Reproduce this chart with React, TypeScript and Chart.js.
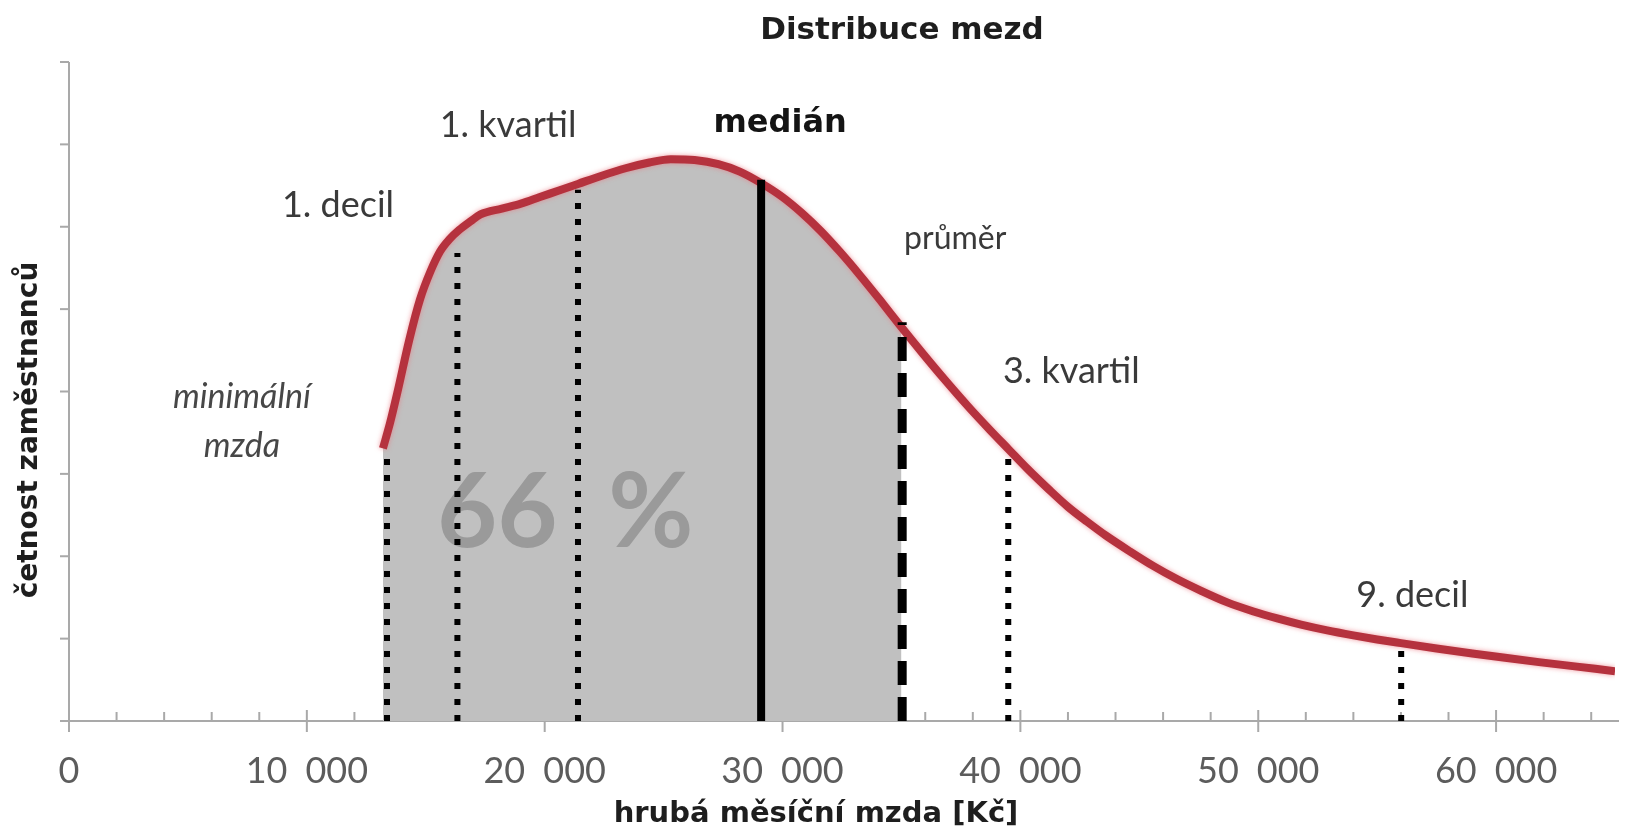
import React, { useEffect, useRef } from 'react';
import { Chart, registerables } from 'chart.js';

Chart.register(...registerables);

// ---- data ----
// gross monthly wage [Kč]
const WAGES = [
  13200, 13500, 13800, 14300, 14760, 15200, 15600, 16000, 16400, 16900, 17300, 18200,
  19000, 19800, 20600, 21400, 22400, 23400, 24400, 25300, 26300, 27300, 28200, 29100,
  30000, 30800, 31600, 32400, 33200, 34100, 35000, 35900, 36800, 37800, 38700, 39500,
  40300, 41200, 42000, 42800, 43600, 44600, 45600, 46600, 47600, 48700, 49800, 50800,
  51800, 52900, 54000, 55000, 56000, 57500, 59000, 60300, 61800, 63400, 65000,
];
// relative number of employees (axis units, no labels on the axis)
const FREQUENCY = [
  3.31, 3.62, 3.98, 4.62, 5.12, 5.46, 5.7, 5.85, 5.96, 6.07, 6.15, 6.22,
  6.28, 6.36, 6.44, 6.52, 6.62, 6.71, 6.78, 6.82, 6.81, 6.76, 6.67, 6.53,
  6.36, 6.17, 5.95, 5.7, 5.43, 5.11, 4.78, 4.46, 4.15, 3.82, 3.54, 3.3,
  3.06, 2.81, 2.6, 2.42, 2.25, 2.06, 1.88, 1.72, 1.58, 1.44, 1.33, 1.245,
  1.17, 1.1, 1.04, 0.99, 0.945, 0.88, 0.82, 0.77, 0.715, 0.66, 0.605,
];

// statistics marked by vertical lines
const MARKER_NAMES = ['minimální mzda', '1. decil', '1. kvartil', 'medián', 'průměr', '3. kvartil', '9. decil'];
const MARKER_WAGES = [13370, 16330, 21400, 29100, 35030, 39490, 56010];
const MARKER_TOPS = [3.29, 5.68, 6.45, 6.57, 4.84, 3.3, 0.95];
const MEDIAN_NAME = 'medián';
const MEAN_NAME = 'průměr';
const MEAN_WAGE = 35000;
const SHARE_BELOW_MEAN = 66;

// axis ticks
const X_TICKS = [0, 10000, 20000, 30000, 40000, 50000, 60000];
const X_TICK_LABELS = ['0', '10\u2002000', '20\u2002000', '30\u2002000', '40\u2002000', '50\u2002000', '60\u2002000'];
const X_MIN = 0;
const X_MAX = 65000;
const X_MINOR_STEP = 2000;
const Y_MIN = 0;
const Y_MAX = 8;
const Y_TICK_STEP = 1;

const TITLE = 'Distribuce mezd';
const X_TITLE = 'hrubá měsíční mzda [Kč]';
const Y_TITLE = 'četnost zaměstnanců';

// annotation labels anchored in data coordinates (text baseline, centred)
const LABELS = [
  { text: 'minimální', x: 7270, y: 3.8, font: 'italic 34px Lato', color: '#474747' },
  { text: 'mzda', x: 7270, y: 3.2, font: 'italic 34px Lato', color: '#474747' },
  { text: '1. decil', x: 11310, y: 6.12, font: '36px Lato', color: '#3a3a3a' },
  { text: '1. kvartil', x: 18460, y: 7.09, font: '36px Lato', color: '#3a3a3a' },
  { text: 'medián', x: 29900, y: 7.15, font: 'bold 32px "DejaVu Sans"', color: '#141414' },
  { text: 'průměr', x: 37260, y: 5.73, font: '32px Lato', color: '#3a3a3a' },
  { text: '3. kvartil', x: 42140, y: 4.1, font: '36px Lato', color: '#3a3a3a' },
  { text: '9. decil', x: 56480, y: 1.38, font: '36px Lato', color: '#3a3a3a' },
];
const SHARE_LABEL = { x: 20860, y: 2.11 };

export default function App() {
  const ref = useRef<HTMLCanvasElement>(null);

  useEffect(() => {
    const canvas = ref.current;
    if (!canvas) return;

    const curve = WAGES.map((x, i) => ({ x, y: FREQUENCY[i] }));
    const shaded = curve.filter((p) => p.x <= MEAN_WAGE);

    const markerSets = MARKER_WAGES.map((w, i) => {
      const name = MARKER_NAMES[i];
      const solid = name === MEDIAN_NAME;
      const dashed = name === MEAN_NAME;
      return {
        label: name,
        data: [
          { x: w, y: 0 },
          { x: w, y: MARKER_TOPS[i] },
        ],
        borderColor: '#000000',
        borderWidth: solid ? 8 : dashed ? 9 : 6,
        borderDash: solid ? [] : dashed ? [24, 12] : [6, 10],
        borderCapStyle: 'butt' as const,
        pointRadius: 0,
        fill: false,
        tension: 0,
        order: 0,
      };
    });

    const curveSet = {
      label: 'četnost',
      data: curve,
      borderColor: '#b5323e',
      borderWidth: 8,
      cubicInterpolationMode: 'monotone' as const,
      pointRadius: 0,
      fill: false,
      order: 1,
    };

    const shadeSet = {
      label: 'pod průměrem',
      data: shaded,
      borderWidth: 0,
      borderColor: 'rgba(0,0,0,0)',
      backgroundColor: '#c0c0c0',
      cubicInterpolationMode: 'monotone' as const,
      pointRadius: 0,
      fill: 'origin',
      order: 2,
    };

    const datasets: any[] = [...markerSets, curveSet, shadeSet];
    const shadeIndex = datasets.length - 1;
    const curveIndex = datasets.length - 2;

    const axesPlugin = {
      id: 'axesPlugin',
      beforeDatasetsDraw(chart: any) {
        const { ctx, chartArea: a, scales } = chart;
        const xs = scales.x;
        const ys = scales.y;
        ctx.save();
        ctx.strokeStyle = '#a9a9a9';
        ctx.lineWidth = 2;
        const line = (x1: number, y1: number, x2: number, y2: number) => {
          ctx.beginPath();
          ctx.moveTo(x1, y1);
          ctx.lineTo(x2, y2);
          ctx.stroke();
        };
        line(a.left, a.top, a.left, a.bottom + 9);
        for (let v = Y_MIN; v <= Y_MAX; v += Y_TICK_STEP) {
          const py = ys.getPixelForValue(v);
          line(a.left - 9, py, a.left, py);
        }
        line(a.left - 9, a.bottom, a.right + 4, a.bottom);
        for (let v = X_MIN; v <= X_MAX; v += X_MINOR_STEP) {
          const px = xs.getPixelForValue(v);
          if (X_TICKS.includes(v)) line(px, a.bottom - 11, px, a.bottom + 11);
          else line(px, a.bottom - 9, px, a.bottom);
        }
        ctx.restore();
      },
    };

    const glowPlugin = {
      id: 'glowPlugin',
      beforeDatasetDraw(chart: any, args: any) {
        if (args.index !== curveIndex) return;
        const ctx = chart.ctx;
        ctx.save();
        ctx.shadowColor = 'rgba(235, 120, 130, 0.75)';
        ctx.shadowBlur = 5;
      },
      afterDatasetDraw(chart: any, args: any) {
        if (args.index !== curveIndex) return;
        chart.ctx.restore();
      },
    };

    const sharePlugin = {
      id: 'sharePlugin',
      afterDatasetDraw(chart: any, args: any) {
        if (args.index !== shadeIndex) return;
        const { ctx, scales } = chart;
        ctx.save();
        ctx.font = 'bold 104px Lato';
        ctx.fillStyle = '#9a9a9a';
        ctx.textAlign = 'center';
        ctx.textBaseline = 'alphabetic';
        ctx.fillText(`${SHARE_BELOW_MEAN}  %`, scales.x.getPixelForValue(SHARE_LABEL.x), scales.y.getPixelForValue(SHARE_LABEL.y));
        ctx.restore();
      },
    };

    const textPlugin = {
      id: 'textPlugin',
      afterDraw(chart: any) {
        const { ctx, scales } = chart;
        ctx.save();
        ctx.textAlign = 'center';
        ctx.textBaseline = 'alphabetic';
        for (const l of LABELS) {
          ctx.font = l.font;
          ctx.fillStyle = l.color;
          ctx.fillText(l.text, scales.x.getPixelForValue(l.x), scales.y.getPixelForValue(l.y));
        }
        // title
        ctx.font = 'bold 31px "DejaVu Sans"';
        ctx.fillStyle = '#1e1e1e';
        ctx.fillText(TITLE, 902, 39);
        // x axis title
        ctx.font = 'bold 29px "DejaVu Sans"';
        ctx.fillText(X_TITLE, 816, 822);
        // y axis title
        ctx.translate(30, 430);
        ctx.rotate(-Math.PI / 2);
        ctx.textBaseline = 'middle';
        ctx.font = 'bold 28px "DejaVu Sans"';
        ctx.fillText(Y_TITLE, 0, 0);
        ctx.restore();
      },
    };

    const chart = new Chart(canvas, {
      type: 'line',
      data: { datasets },
      options: {
        animation: false,
        responsive: false,
        devicePixelRatio: 1,
        layout: { padding: { left: 69, right: 11, top: 62, bottom: 0 } },
        plugins: {
          legend: { display: false },
          tooltip: { enabled: false },
          title: { display: false },
        },
        scales: {
          x: {
            type: 'linear',
            min: X_MIN,
            max: X_MAX,
            afterBuildTicks: (s: any) => {
              s.ticks = X_TICKS.map((v) => ({ value: v }));
            },
            afterFit: (s: any) => {
              s.height = 111;
            },
            ticks: {
              callback: (v: any) => X_TICK_LABELS[X_TICKS.indexOf(Number(v))],
              font: { family: 'Lato', size: 36 },
              color: '#5c5c5c',
              padding: 29,
              maxRotation: 0,
              autoSkip: false,
            },
            grid: { display: false, drawTicks: false },
            border: { display: false },
          },
          y: {
            type: 'linear',
            min: Y_MIN,
            max: Y_MAX,
            display: false,
          },
        },
      } as any,
      plugins: [axesPlugin, glowPlugin, sharePlugin, textPlugin],
    });

    return () => chart.destroy();
  }, []);

  return (
    <div style={{ position: 'fixed', left: 0, top: 0, width: 1626, height: 832, background: '#ffffff' }}>
      <canvas ref={ref} width={1626} height={832} style={{ display: 'block', width: 1626, height: 832 }} />
    </div>
  );
}
